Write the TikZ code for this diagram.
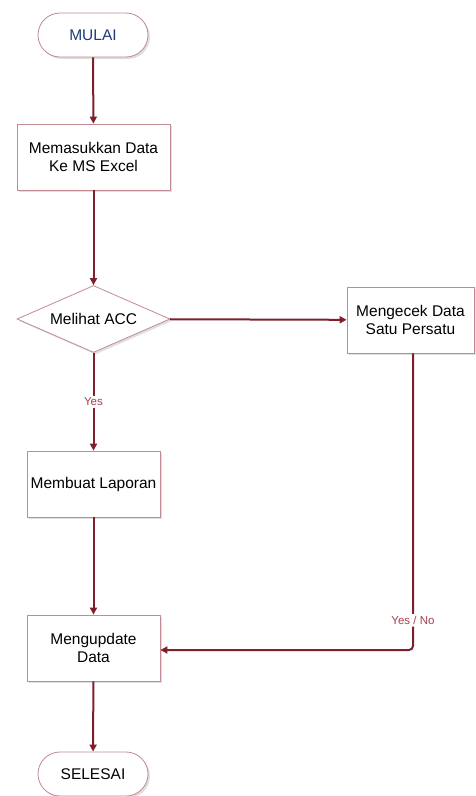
\documentclass[tikz,border=0pt]{standalone}
\usepackage{fontspec}
\setmainfont{Liberation Sans}
\usetikzlibrary{shapes.geometric,shapes.misc,arrows.meta,shadows}
\definecolor{arrowred}{HTML}{7E1F2C}
\definecolor{edgepink}{HTML}{C28A92}
\definecolor{labred}{HTML}{A8404E}
\definecolor{startblue}{HTML}{1F3C78}
\tikzset{
  x=1pt,y=-1pt,
  base/.style={draw=edgepink, line width=0.8pt, fill=white, font=\fontsize{15.5}{18.5}\selectfont, align=center, inner sep=0pt,
     drop shadow={opacity=0.25, shadow xshift=2pt, shadow yshift=-2pt}},
  term/.style={base, rounded rectangle, minimum width=110pt, minimum height=44pt},
  proc/.style={base, rectangle, minimum width=133pt, minimum height=66pt},
  dec/.style={base, diamond, aspect=2.3, minimum width=153pt, minimum height=67pt, inner sep=0pt},
  conn/.style={draw=arrowred, line width=2pt, -{Triangle[length=7pt,width=7pt]}},
  lab/.style={text=labred, font=\fontsize{11.5}{13}\selectfont}
}
\begin{document}
\begin{tikzpicture}
\useasboundingbox (0,0) rectangle (476,796);
\node[term, text=startblue] (start) at (93,35) {MULAI};
\node[proc, minimum width=153pt] (input) at (93.5,157) {Memasukkan Data\\Ke MS Excel};
\node[dec, minimum width=153pt] (cek) at (93.5,319) {Melihat ACC};
\node[proc, minimum width=127pt] (satu) at (410.5,320) {Mengecek Data\\Satu Persatu};
\node[proc] (lapor) at (93.5,484) {Membuat Laporan};
\node[proc] (update) at (93.5,648) {Mengupdate\\Data};
\node[term] (end) at (93,774) {SELESAI};
\coordinate (corner) at (413,650);
\draw[conn] (start) -- (input);
\draw[conn] (input) -- (cek);
\draw[conn] (cek) -- (satu);
\draw[conn] (cek) -- node[lab, fill=white, inner sep=2pt] {Yes} (lapor);
\draw[conn] (lapor) -- (update);
\draw[conn] (update) -- (end);
\draw[conn, rounded corners=4pt] (satu.south -| corner) -- node[lab, pos=0.9, fill=white, inner sep=2pt] {Yes / No} (corner) -- (update.east |- corner);
\end{tikzpicture}
\end{document}
